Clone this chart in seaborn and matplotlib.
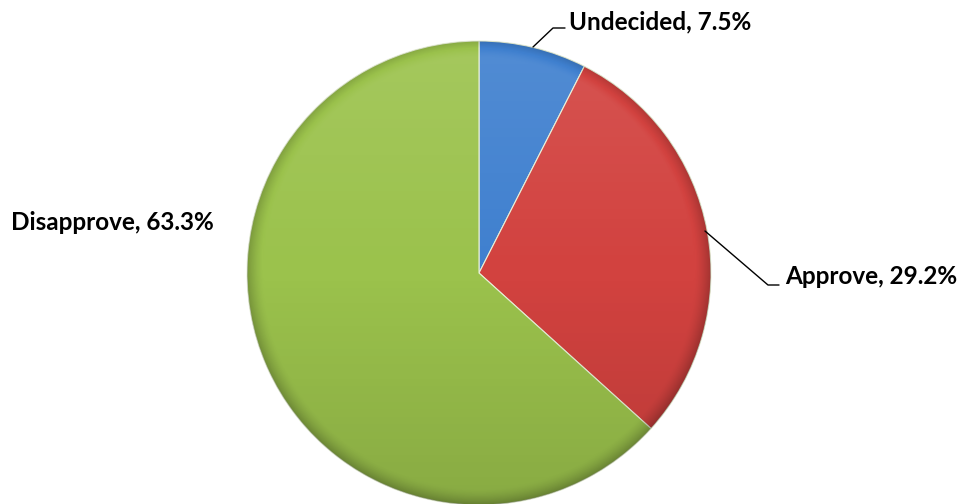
import numpy as np
import matplotlib
matplotlib.use("Agg")
import matplotlib.pyplot as plt
from matplotlib.patches import Circle
import seaborn as sns

# survey result
categories = ["Undecided", "Approve", "Disapprove"]
shares = [7.5, 29.2, 63.3]
colors = ["#3f80cf", "#d2423f", "#9bc24c"]

sns.set_theme(style="white")
plt.rcParams["font.family"] = ["Lato", "DejaVu Sans"]

fig = plt.figure(figsize=(9.6, 5.04), dpi=100)
ax = fig.add_axes([0, 0, 1, 1])

cx, cy, r = 479, 231, 232
wedges, _ = ax.pie(shares, colors=colors, startangle=90, counterclock=False,
                   center=(cx, cy), radius=r, frame=True,
                   wedgeprops=dict(edgecolor="#e8f0d8", linewidth=0.8))
ax.set_xlim(0, 960)
ax.set_ylim(0, 504)
ax.set_aspect("equal")
ax.axis("off")

# shading to imitate the glossy office-style fill
n = 400
yy, xx = np.mgrid[1:-1:n * 1j, -1:1:n * 1j]
rr = np.sqrt(xx ** 2 + yy ** 2)
shade = np.zeros((n, n, 4))
top = np.clip(yy, 0, 1)
bot = np.clip(-yy, 0, 1)
edge = np.clip((rr - 0.93) / 0.07, 0, 1) ** 1.5
light = 0.10 * top
dark = 0.12 * bot + 0.22 * edge
shade[..., :3] = np.where((light > dark)[..., None], 1.0, 0.0)
shade[..., 3] = np.abs(light - dark)
im = ax.imshow(shade, extent=(cx - r, cx + r, cy - r, cy + r), zorder=3,
               interpolation="bilinear")
im.set_clip_path(Circle((cx, cy), r, transform=ax.transData))

# labels and leader lines
lab = dict(fontsize=17.5, fontweight="bold", color="black", va="center", ha="left", zorder=5)
ax.plot([533, 553, 565], [457, 476, 476], color="black", lw=1, zorder=4)
ax.text(569, 482, f"{categories[0]}, {shares[0]}%", **lab)
ax.plot([705, 768, 779], [273, 219, 219], color="black", lw=1, zorder=4)
ax.text(785, 227, f"{categories[1]}, {shares[1]}%", **lab)
ax.text(11, 281, f"{categories[2]}, {shares[2]}%", **lab)

fig.savefig("out.png", dpi=100)
